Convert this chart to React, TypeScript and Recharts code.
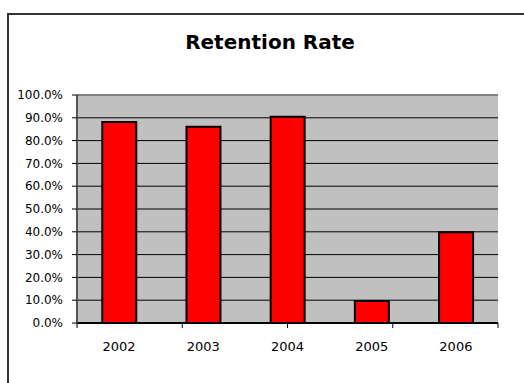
import React from 'react';
import {
  BarChart,
  Bar,
  XAxis,
  YAxis,
  CartesianGrid,
  ReferenceLine,
} from 'recharts';

const years = ['2002', '2003', '2004', '2005', '2006'];
const retention = [0.882, 0.861, 0.905, 0.096, 0.398];
const yTicks = [0, 0.1, 0.2, 0.3, 0.4, 0.5, 0.6, 0.7, 0.8, 0.9, 1];
const boundaryTicks = [0, 1, 2, 3, 4, 5];

const data = years.map((year, i) => ({ year, value: retention[i] }));

const FONT = '"DejaVu Sans", sans-serif';

export default function App() {
  return (
    <div
      style={{
        position: 'fixed',
        left: 0,
        top: 0,
        width: 524,
        height: 383,
        overflow: 'hidden',
        background: '#fff',
        fontFamily: FONT,
      }}
    >
      {/* outer chart frame, runs off the right and bottom edges */}
      <div
        style={{
          position: 'absolute',
          left: 7,
          top: 13,
          width: 600,
          height: 500,
          border: '2px solid #333',
        }}
      />
      <svg width={524} height={383} style={{ position: 'absolute', left: 0, top: 0 }}>
        <text x={270} y={49} textAnchor="middle" fontFamily={FONT} fontWeight="bold" fontSize={20} fill="#000">
          Retention Rate
        </text>
      </svg>
      <div style={{ position: 'absolute', left: 0, top: 0 }}>
        <BarChart
          width={524}
          height={383}
          data={data}
          margin={{ top: 95, right: 26, left: 0, bottom: 30 }}
          barCategoryGap="30%"
        >
          <CartesianGrid vertical={false} stroke="#000" fill="#c0c0c0" fillOpacity={1} />
          {/* number axis only for Excel-style ticks between categories */}
          <XAxis
            xAxisId="a-grid"
            type="number"
            domain={[0, 5]}
            ticks={boundaryTicks}
            interval={0}
            height={1}
            axisLine={{ stroke: '#000', strokeWidth: 2 }}
            tickLine={{ stroke: '#000' }}
            tickSize={5}
            tick={() => <g />}
          />
          <XAxis
            dataKey="year"
            xAxisId="b-cat"
            axisLine={false}
            tickLine={false}
            tickSize={0}
            tickMargin={18}
            height={29}
            tick={{ fill: '#000', fontSize: 13, fontFamily: FONT }}
            interval={0}
          />
          <YAxis
            domain={[0, 1]}
            ticks={yTicks}
            width={77}
            interval={0}
            tickFormatter={(v) => `${(v * 100).toFixed(1)}%`}
            tick={{ fill: '#000', fontSize: 12, fontFamily: FONT }}
            axisLine={{ stroke: '#555', strokeWidth: 2 }}
            tickLine={{ stroke: '#000' }}
            tickSize={5}
            tickMargin={9}
          />
          <ReferenceLine y={1} xAxisId="b-cat" stroke="#808080" strokeWidth={2} />
          <ReferenceLine x={5} xAxisId="a-grid" stroke="#808080" strokeWidth={2} />
          <Bar
            dataKey="value"
            xAxisId="b-cat"
            fill="#ff0000"
            stroke="#000"
            strokeWidth={2}
            isAnimationActive={false}
          />
        </BarChart>
      </div>
    </div>
  );
}
